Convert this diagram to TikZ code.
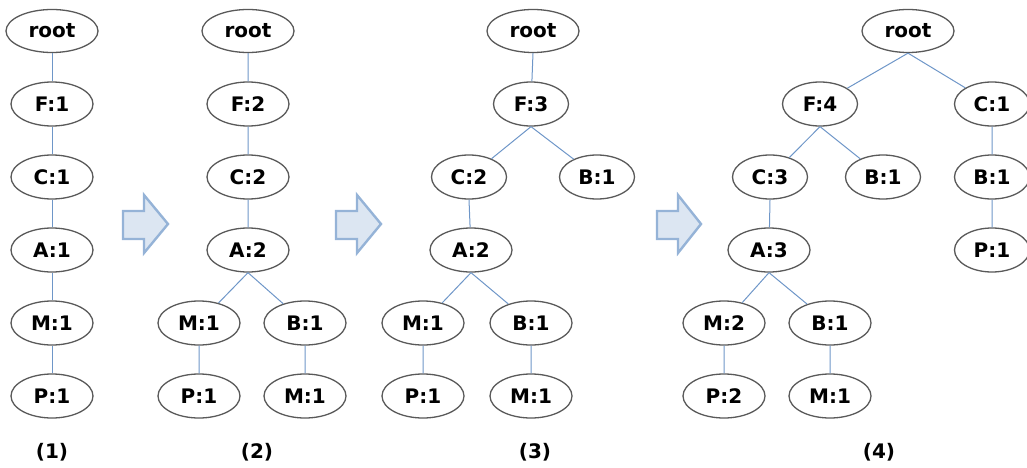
\documentclass[tikz,border=0pt]{standalone}
\usepackage{fontspec}
\setmainfont{DejaVu Sans}
\usetikzlibrary{shapes.geometric}
\definecolor{edgeblue}{RGB}{110,150,200}
\definecolor{arrowline}{RGB}{149,179,215}
\definecolor{arrowfill}{RGB}{220,230,242}
\begin{document}
\begin{tikzpicture}[x=1pt,y=-1pt,
  every node/.style={font=\bfseries\fontsize{20}{23}\selectfont},
  tnode/.style={ellipse,draw=black!65,line width=1.3pt,fill=white,
    minimum width=82pt,minimum height=44pt,inner sep=0pt},
  slim/.style={minimum width=75pt},
  rootnode/.style={tnode,minimum width=92pt,minimum height=43pt},
  edge/.style={draw=edgeblue,line width=1pt},
  blockarrow/.style={draw=arrowline,fill=arrowfill,line width=2.4pt,line join=miter},
  caption/.style={font=\bfseries\fontsize{20}{23}\selectfont}]
\useasboundingbox (0,0) rectangle (1027,468);

% ---- tree (1)
\node[rootnode] (a0) at (52,31) {root};
\node[tnode] (aF) at (52,104) {F:1};
\node[tnode] (aC) at (52,177) {C:1};
\node[tnode] (aA) at (52,250) {A:1};
\node[tnode] (aM) at (52,323) {M:1};
\node[tnode] (aP) at (52,396) {P:1};
\draw[edge] (a0.south) -- (aF) (aF.south) -- (aC) (aC.south) -- (aA)
  (aA.south) -- (aM) (aM.south) -- (aP);
\node[caption] (l1) at (52,452) {(1)};

% ---- tree (2)
\node[rootnode] (b0) at (248,31) {root};
\node[tnode] (bF) at (248,104) {F:2};
\node[tnode] (bC) at (248,177) {C:2};
\node[tnode] (bA) at (248,250) {A:2};
\node[tnode] (bM) at (199,323) {M:1};
\node[tnode] (bB) at (305,323) {B:1};
\node[tnode] (bP) at (199,396) {P:1};
\node[tnode] (bM2) at (305,396) {M:1};
\draw[edge] (b0.south) -- (bF) (bF.south) -- (bC) (bC.south) -- (bA)
  (bA.south) -- (bM) (bA.south) -- (bB) (bM.south) -- (bP) (bB.south) -- (bM2);
\node[caption] (l2) at (257,452) {(2)};

% ---- tree (3)
\node[rootnode] (c0) at (533,31) {root};
\node[tnode,slim] (cF) at (531,104) {F:3};
\node[tnode,slim] (cC) at (469,177) {C:2};
\node[tnode,slim] (cB) at (597,177) {B:1};
\node[tnode] (cA) at (471,250) {A:2};
\node[tnode] (cM) at (423,323) {M:1};
\node[tnode] (cB2) at (531,323) {B:1};
\node[tnode] (cP) at (423,396) {P:1};
\node[tnode] (cM2) at (531,396) {M:1};
\draw[edge] (c0.south) -- (cF) (cF.south) -- (cC) (cF.south) -- (cB)
  (cC.south) -- (cA) (cA.south) -- (cM) (cA.south) -- (cB2)
  (cM.south) -- (cP) (cB2.south) -- (cM2);
\node[caption] (l3) at (535,452) {(3)};

% ---- tree (4)
\node[rootnode] (d0) at (908,31) {root};
\node[tnode,slim] (dF) at (820,104) {F:4};
\node[tnode,slim] (dC) at (992,104) {C:1};
\node[tnode,slim] (dC3) at (770,177) {C:3};
\node[tnode,slim] (dB) at (883,177) {B:1};
\node[tnode,slim] (dB2) at (992,177) {B:1};
\node[tnode] (dA) at (769,250) {A:3};
\node[tnode,slim] (dP) at (992,250) {P:1};
\node[tnode] (dM) at (724,323) {M:2};
\node[tnode] (dB3) at (830,323) {B:1};
\node[tnode] (dP2) at (724,396) {P:2};
\node[tnode] (dM2) at (830,396) {M:1};
\draw[edge] (d0.south) -- (dF) (d0.south) -- (dC)
  (dF.south) -- (dC3) (dF.south) -- (dB) (dC.south) -- (dB2)
  (dC3.south) -- (dA) (dB2.south) -- (dP)
  (dA.south) -- (dM) (dA.south) -- (dB3)
  (dM.south) -- (dP2) (dB3.south) -- (dM2);
\node[caption] (l4) at (879,452) {(4)};

% ---- block arrows between the stages
\draw[blockarrow] (123,211) -- (144,211) -- (144,195) -- (168,224) -- (144,253) -- (144,239) -- (123,239) -- cycle;
\draw[blockarrow] (336,211) -- (357,211) -- (357,195) -- (381,224) -- (357,253) -- (357,239) -- (336,239) -- cycle;
\draw[blockarrow] (657,211) -- (678,211) -- (678,195) -- (701,224) -- (678,253) -- (678,239) -- (657,239) -- cycle;
\end{tikzpicture}
\end{document}
